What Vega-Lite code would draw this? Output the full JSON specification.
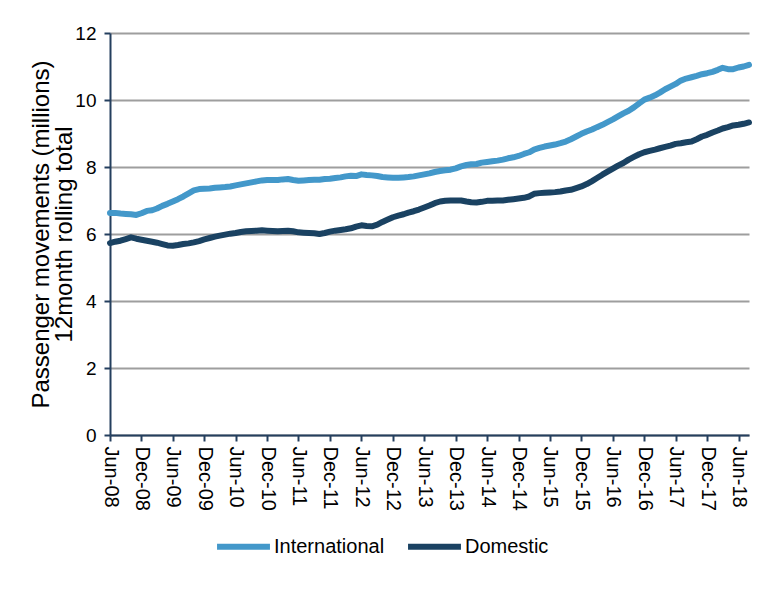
{
  "$schema": "https://vega.github.io/schema/vega-lite/v6.json",
  "width": 639,
  "height": 402,
  "autosize": {"type": "none"},
  "padding": {"left": 110, "top": 33, "right": 27, "bottom": 170},
  "background": "white",
  "config": {
    "font": "Liberation Sans",
    "view": {"stroke": null},
    "axis": {"labelColor": "black", "titleColor": "black", "labelFont": "Liberation Sans", "titleFont": "Liberation Sans"}
  },
  "data": {"values": [
    {"d":"2008-06-01","International":6.63,"Domestic":5.73},
    {"d":"2008-07-01","International":6.63,"Domestic":5.77},
    {"d":"2008-08-01","International":6.61,"Domestic":5.80},
    {"d":"2008-09-01","International":6.60,"Domestic":5.85},
    {"d":"2008-10-01","International":6.59,"Domestic":5.90},
    {"d":"2008-11-01","International":6.57,"Domestic":5.86},
    {"d":"2008-12-01","International":6.62,"Domestic":5.83},
    {"d":"2009-01-01","International":6.69,"Domestic":5.80},
    {"d":"2009-02-01","International":6.71,"Domestic":5.77},
    {"d":"2009-03-01","International":6.76,"Domestic":5.74},
    {"d":"2009-04-01","International":6.84,"Domestic":5.70},
    {"d":"2009-05-01","International":6.90,"Domestic":5.66},
    {"d":"2009-06-01","International":6.97,"Domestic":5.65},
    {"d":"2009-07-01","International":7.04,"Domestic":5.67},
    {"d":"2009-08-01","International":7.12,"Domestic":5.70},
    {"d":"2009-09-01","International":7.21,"Domestic":5.72},
    {"d":"2009-10-01","International":7.30,"Domestic":5.75},
    {"d":"2009-11-01","International":7.34,"Domestic":5.79},
    {"d":"2009-12-01","International":7.35,"Domestic":5.84},
    {"d":"2010-01-01","International":7.36,"Domestic":5.88},
    {"d":"2010-02-01","International":7.38,"Domestic":5.92},
    {"d":"2010-03-01","International":7.39,"Domestic":5.95},
    {"d":"2010-04-01","International":7.40,"Domestic":5.98},
    {"d":"2010-05-01","International":7.42,"Domestic":6.01},
    {"d":"2010-06-01","International":7.45,"Domestic":6.03},
    {"d":"2010-07-01","International":7.48,"Domestic":6.06},
    {"d":"2010-08-01","International":7.51,"Domestic":6.08},
    {"d":"2010-09-01","International":7.54,"Domestic":6.09},
    {"d":"2010-10-01","International":7.57,"Domestic":6.10},
    {"d":"2010-11-01","International":7.60,"Domestic":6.11},
    {"d":"2010-12-01","International":7.61,"Domestic":6.10},
    {"d":"2011-01-01","International":7.61,"Domestic":6.09},
    {"d":"2011-02-01","International":7.61,"Domestic":6.08},
    {"d":"2011-03-01","International":7.63,"Domestic":6.09},
    {"d":"2011-04-01","International":7.64,"Domestic":6.10},
    {"d":"2011-05-01","International":7.61,"Domestic":6.08},
    {"d":"2011-06-01","International":7.59,"Domestic":6.05},
    {"d":"2011-07-01","International":7.60,"Domestic":6.04},
    {"d":"2011-08-01","International":7.61,"Domestic":6.03},
    {"d":"2011-09-01","International":7.62,"Domestic":6.02},
    {"d":"2011-10-01","International":7.62,"Domestic":6.00},
    {"d":"2011-11-01","International":7.64,"Domestic":6.03},
    {"d":"2011-12-01","International":7.65,"Domestic":6.07},
    {"d":"2012-01-01","International":7.67,"Domestic":6.10},
    {"d":"2012-02-01","International":7.69,"Domestic":6.12},
    {"d":"2012-03-01","International":7.72,"Domestic":6.14},
    {"d":"2012-04-01","International":7.74,"Domestic":6.17},
    {"d":"2012-05-01","International":7.73,"Domestic":6.22},
    {"d":"2012-06-01","International":7.78,"Domestic":6.26},
    {"d":"2012-07-01","International":7.76,"Domestic":6.24},
    {"d":"2012-08-01","International":7.75,"Domestic":6.23},
    {"d":"2012-09-01","International":7.73,"Domestic":6.28},
    {"d":"2012-10-01","International":7.70,"Domestic":6.36},
    {"d":"2012-11-01","International":7.69,"Domestic":6.43},
    {"d":"2012-12-01","International":7.68,"Domestic":6.50},
    {"d":"2013-01-01","International":7.68,"Domestic":6.55},
    {"d":"2013-02-01","International":7.69,"Domestic":6.59},
    {"d":"2013-03-01","International":7.70,"Domestic":6.64},
    {"d":"2013-04-01","International":7.72,"Domestic":6.68},
    {"d":"2013-05-01","International":7.75,"Domestic":6.73},
    {"d":"2013-06-01","International":7.78,"Domestic":6.79},
    {"d":"2013-07-01","International":7.81,"Domestic":6.85},
    {"d":"2013-08-01","International":7.85,"Domestic":6.92},
    {"d":"2013-09-01","International":7.88,"Domestic":6.97},
    {"d":"2013-10-01","International":7.90,"Domestic":6.99},
    {"d":"2013-11-01","International":7.92,"Domestic":7.00},
    {"d":"2013-12-01","International":7.96,"Domestic":7.00},
    {"d":"2014-01-01","International":8.02,"Domestic":7.00},
    {"d":"2014-02-01","International":8.06,"Domestic":6.97},
    {"d":"2014-03-01","International":8.08,"Domestic":6.95},
    {"d":"2014-04-01","International":8.09,"Domestic":6.94},
    {"d":"2014-05-01","International":8.13,"Domestic":6.96},
    {"d":"2014-06-01","International":8.15,"Domestic":6.99},
    {"d":"2014-07-01","International":8.17,"Domestic":6.99},
    {"d":"2014-08-01","International":8.19,"Domestic":7.00},
    {"d":"2014-09-01","International":8.22,"Domestic":7.00},
    {"d":"2014-10-01","International":8.26,"Domestic":7.02},
    {"d":"2014-11-01","International":8.29,"Domestic":7.04},
    {"d":"2014-12-01","International":8.33,"Domestic":7.06},
    {"d":"2015-01-01","International":8.39,"Domestic":7.08},
    {"d":"2015-02-01","International":8.44,"Domestic":7.12},
    {"d":"2015-03-01","International":8.52,"Domestic":7.20},
    {"d":"2015-04-01","International":8.57,"Domestic":7.22},
    {"d":"2015-05-01","International":8.61,"Domestic":7.23},
    {"d":"2015-06-01","International":8.64,"Domestic":7.24},
    {"d":"2015-07-01","International":8.67,"Domestic":7.25},
    {"d":"2015-08-01","International":8.71,"Domestic":7.27},
    {"d":"2015-09-01","International":8.76,"Domestic":7.30},
    {"d":"2015-10-01","International":8.83,"Domestic":7.32},
    {"d":"2015-11-01","International":8.91,"Domestic":7.37},
    {"d":"2015-12-01","International":8.99,"Domestic":7.42},
    {"d":"2016-01-01","International":9.06,"Domestic":7.49},
    {"d":"2016-02-01","International":9.12,"Domestic":7.58},
    {"d":"2016-03-01","International":9.19,"Domestic":7.67},
    {"d":"2016-04-01","International":9.26,"Domestic":7.77},
    {"d":"2016-05-01","International":9.34,"Domestic":7.86},
    {"d":"2016-06-01","International":9.42,"Domestic":7.95},
    {"d":"2016-07-01","International":9.51,"Domestic":8.04},
    {"d":"2016-08-01","International":9.60,"Domestic":8.12},
    {"d":"2016-09-01","International":9.68,"Domestic":8.22},
    {"d":"2016-10-01","International":9.78,"Domestic":8.30},
    {"d":"2016-11-01","International":9.90,"Domestic":8.38},
    {"d":"2016-12-01","International":10.01,"Domestic":8.44},
    {"d":"2017-01-01","International":10.07,"Domestic":8.48},
    {"d":"2017-02-01","International":10.14,"Domestic":8.52},
    {"d":"2017-03-01","International":10.22,"Domestic":8.56},
    {"d":"2017-04-01","International":10.32,"Domestic":8.60},
    {"d":"2017-05-01","International":10.40,"Domestic":8.64},
    {"d":"2017-06-01","International":10.48,"Domestic":8.69},
    {"d":"2017-07-01","International":10.58,"Domestic":8.71},
    {"d":"2017-08-01","International":10.64,"Domestic":8.74},
    {"d":"2017-09-01","International":10.68,"Domestic":8.76},
    {"d":"2017-10-01","International":10.72,"Domestic":8.83},
    {"d":"2017-11-01","International":10.77,"Domestic":8.91},
    {"d":"2017-12-01","International":10.80,"Domestic":8.96},
    {"d":"2018-01-01","International":10.84,"Domestic":9.03},
    {"d":"2018-02-01","International":10.90,"Domestic":9.09},
    {"d":"2018-03-01","International":10.96,"Domestic":9.15},
    {"d":"2018-04-01","International":10.92,"Domestic":9.19},
    {"d":"2018-05-01","International":10.92,"Domestic":9.24},
    {"d":"2018-06-01","International":10.97,"Domestic":9.26},
    {"d":"2018-07-01","International":11.00,"Domestic":9.29},
    {"d":"2018-08-01","International":11.05,"Domestic":9.33}
  ]},
  "transform": [{"fold": ["International", "Domestic"], "as": ["series", "value"]}],
  "mark": {"type": "line", "strokeWidth": 6, "strokeJoin": "round", "strokeCap": "round"},
  "encoding": {
    "x": {
      "field": "d", "type": "temporal",
      "scale": {"type": "utc", "domain": [{"year": 2008, "month": 6, "date": 1, "utc": true}, {"year": 2018, "month": 8, "date": 1, "utc": true}]},
      "axis": {
        "title": null,
        "values": [
          {"year":2008,"month":6,"date":1,"utc":true},{"year":2008,"month":12,"date":1,"utc":true},
          {"year":2009,"month":6,"date":1,"utc":true},{"year":2009,"month":12,"date":1,"utc":true},
          {"year":2010,"month":6,"date":1,"utc":true},{"year":2010,"month":12,"date":1,"utc":true},
          {"year":2011,"month":6,"date":1,"utc":true},{"year":2011,"month":12,"date":1,"utc":true},
          {"year":2012,"month":6,"date":1,"utc":true},{"year":2012,"month":12,"date":1,"utc":true},
          {"year":2013,"month":6,"date":1,"utc":true},{"year":2013,"month":12,"date":1,"utc":true},
          {"year":2014,"month":6,"date":1,"utc":true},{"year":2014,"month":12,"date":1,"utc":true},
          {"year":2015,"month":6,"date":1,"utc":true},{"year":2015,"month":12,"date":1,"utc":true},
          {"year":2016,"month":6,"date":1,"utc":true},{"year":2016,"month":12,"date":1,"utc":true},
          {"year":2017,"month":6,"date":1,"utc":true},{"year":2017,"month":12,"date":1,"utc":true},
          {"year":2018,"month":6,"date":1,"utc":true}
        ],
        "labelExpr": "utcFormat(datum.value, '%b-%y')",
        "labelAngle": 90,
        "labelAlign": "left",
        "labelBaseline": "middle",
        "labelFontSize": 20,
        "labelPadding": 5,
        "labelOverlap": false,
        "labelFlush": false,
        "grid": false,
        "domainColor": "#243F5E",
        "domainWidth": 2,
        "tickColor": "#243F5E",
        "tickWidth": 2,
        "tickSize": 6
      }
    },
    "y": {
      "field": "value", "type": "quantitative",
      "scale": {"domain": [0, 12], "nice": false},
      "axis": {
        "title": ["Passenger movements (millions)", "12month rolling total"],
        "titleFontSize": 24,
        "titleFontWeight": "normal",
        "titleLineHeight": 23,
        "titlePadding": -2,
        "values": [0, 2, 4, 6, 8, 10, 12],
        "labelFontSize": 19,
        "labelPadding": 8,
        "grid": true,
        "gridColor": "#9E9E9E",
        "gridWidth": 2,
        "domainColor": "#243F5E",
        "domainWidth": 2,
        "tickColor": "#243F5E",
        "tickWidth": 2,
        "tickSize": 6
      }
    },
    "color": {
      "field": "series", "type": "nominal",
      "scale": {"domain": ["International", "Domestic"], "range": ["#4398CA", "#1A4262"]},
      "legend": {
        "title": null,
        "orient": "none",
        "direction": "horizontal",
        "legendX": 104,
        "legendY": 484,
        "symbolType": "stroke",
        "symbolSize": 2800,
        "symbolStrokeWidth": 6,
        "labelFontSize": 20,
        "labelColor": "black",
        "labelOffset": 1,
        "columnPadding": 11
      }
    }
  }
}
